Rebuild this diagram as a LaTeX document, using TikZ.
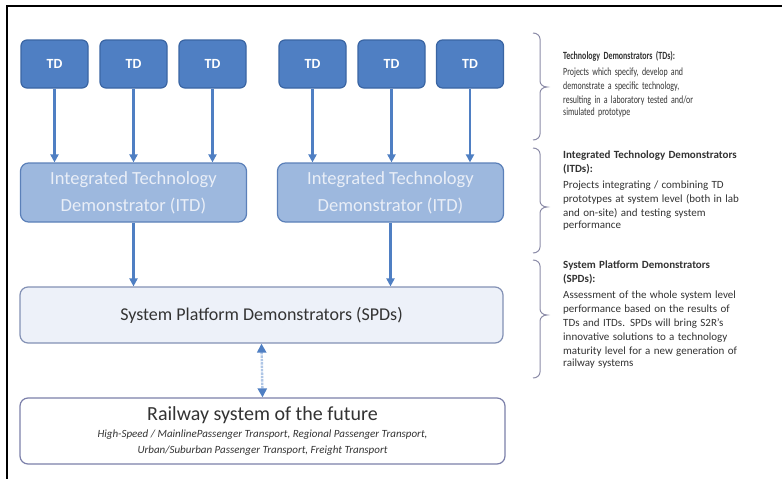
\documentclass[tikz,border=0pt]{standalone}
\usepackage{fontspec}
\setmainfont{Carlito}
\newfontfamily\narrowfont[FakeStretch=0.72]{Carlito}
\usetikzlibrary{arrows.meta}
\definecolor{tdfill}{HTML}{4F7FC3}
\definecolor{tdline}{HTML}{3A65A3}
\definecolor{itdfill}{HTML}{9DB8DE}
\definecolor{itdline}{HTML}{5B80B9}
\definecolor{itdtext}{HTML}{E9EEF7}
\definecolor{spdfill}{HTML}{EDF1F9}
\definecolor{spdline}{HTML}{8391B5}
\definecolor{railline}{HTML}{7C80AA}
\definecolor{arrowblue}{HTML}{4F7FC3}
\definecolor{paleblue}{HTML}{AFC6E6}
\definecolor{txtgray}{HTML}{333333}
\definecolor{bracecol}{HTML}{8C8CA8}
\tikzset{
  tdbox/.style={draw=tdline, line width=1.2pt, fill=tdfill, rounded corners=6pt,
    minimum width=67pt, minimum height=48pt, text=white,
    font=\fontsize{14}{16}\selectfont\bfseries},
  itdbox/.style={draw=itdline, line width=1.2pt, fill=itdfill, rounded corners=8pt,
    minimum width=226pt, minimum height=59pt, text=itdtext, align=center,
    font=\fontsize{18.5}{27}\selectfont},
  spdbox/.style={draw=spdline, line width=1.2pt, fill=spdfill, rounded corners=8pt,
    minimum width=483pt, minimum height=56pt, text=txtgray,
    font=\fontsize{18}{22}\selectfont},
  railbox/.style={draw=railline, line width=1.2pt, fill=white, rounded corners=8pt,
    minimum width=485pt, minimum height=66pt, text=txtgray, align=center,
    inner sep=0pt},
  flow/.style={draw=arrowblue, line width=2.2pt, -{Triangle[length=8pt,width=8pt]}},
  both/.style={draw=paleblue, line width=2.4pt, densely dotted,
    {Triangle[length=9pt,width=9pt,color=arrowblue]}-{Triangle[length=9pt,width=9pt,color=arrowblue]}},
  bracket/.style={draw=bracecol, line width=1pt},
  desc/.style={anchor=north west, text width=225pt, align=left, text=txtgray,
    inner sep=0pt}
}
\begin{document}
\begin{tikzpicture}[x=1pt,y=-1pt]
\useasboundingbox (0,0) rectangle (782,479);
\fill[white] (0,0) rectangle (782,479);
\draw[line width=1.5pt] (7,479) -- (7,6) -- (782,6);

% TD row
\node[tdbox] (td1) at (54.5,64) {TD};
\node[tdbox] (td2) at (133.5,64) {TD};
\node[tdbox] (td3) at (212.5,64) {TD};
\node[tdbox] (td4) at (312.5,64) {TD};
\node[tdbox] (td5) at (391.5,64) {TD};
\node[tdbox] (td6) at (470,64) {TD};

% ITD row
\node[itdbox] (itd1) at (133.5,192.5) {Integrated Technology\\Demonstrator (ITD)};
\node[itdbox] (itd2) at (390.5,192.5) {Integrated Technology\\Demonstrator (ITD)};

% SPD
\node[spdbox] (spd) at (261.5,315) {System Platform Demonstrators (SPDs)};

% Railway
\node[railbox] (rail) at (262.5,431) {{\fontsize{20}{20}\selectfont Railway system of the future}\\[5pt]
  {\fontsize{11}{15}\selectfont\itshape High-Speed / MainlinePassenger Transport, Regional Passenger Transport,}\\[4pt]
  {\fontsize{11}{15}\selectfont\itshape Urban/Suburban Passenger Transport, Freight Transport}};

% arrows
\foreach \t/\i in {td1/itd1,td2/itd1,td3/itd1,td4/itd2,td5/itd2,td6/itd2}
  \draw[flow] (\t.south) -- (\t.south |- \i.north);
\draw[flow] (itd1.south) -- (itd1.south |- spd.north);
\draw[flow] (itd2.south) -- (itd2.south |- spd.north);
\draw[both] (spd.south) -- (rail.north);

% brackets
\draw[bracket] (533,33) to[out=0,in=90] (540,39) -- (540,81) to[out=-90,in=180] (547,87)
  to[out=180,in=90] (540,93) -- (540,134) to[out=-90,in=0] (533,140);
\draw[bracket] (533,148) to[out=0,in=90] (540,154) -- (540,201) to[out=-90,in=180] (547,207)
  to[out=180,in=90] (540,213) -- (540,247) to[out=-90,in=0] (533,253);
\draw[bracket] (533,260) to[out=0,in=90] (540,266) -- (540,309) to[out=-90,in=180] (547,315)
  to[out=180,in=90] (540,321) -- (540,372) to[out=-90,in=0] (533,378);

% descriptions
\node[desc] (d1) at (563,51) {\narrowfont\fontsize{11}{14}\selectfont
  \textbf{Technology Demonstrators (TDs):}\\[2pt]
  Projects which specify, develop and\\
  demonstrate a specific technology,\\
  resulting in a laboratory tested and/or\\
  simulated prototype};
\node[desc] (d2) at (563,151) {\fontsize{11}{14}\selectfont
  \textbf{Integrated Technology Demonstrators}\\
  \textbf{(ITDs):}\\[2pt]
  Projects integrating / combining TD\\
  prototypes at system level (both in lab\\
  and on-site) and testing system\\
  performance};
\node[desc] (d3) at (563,261) {\fontsize{11}{14}\selectfont
  \textbf{System Platform Demonstrators}\\
  \textbf{(SPDs):}\\[2pt]
  Assessment of the whole system level\\
  performance based on the results of\\
  TDs and ITDs. SPDs will bring S2R's\\
  innovative solutions to a technology\\
  maturity level for a new generation of\\
  railway systems};
\end{tikzpicture}
\end{document}
